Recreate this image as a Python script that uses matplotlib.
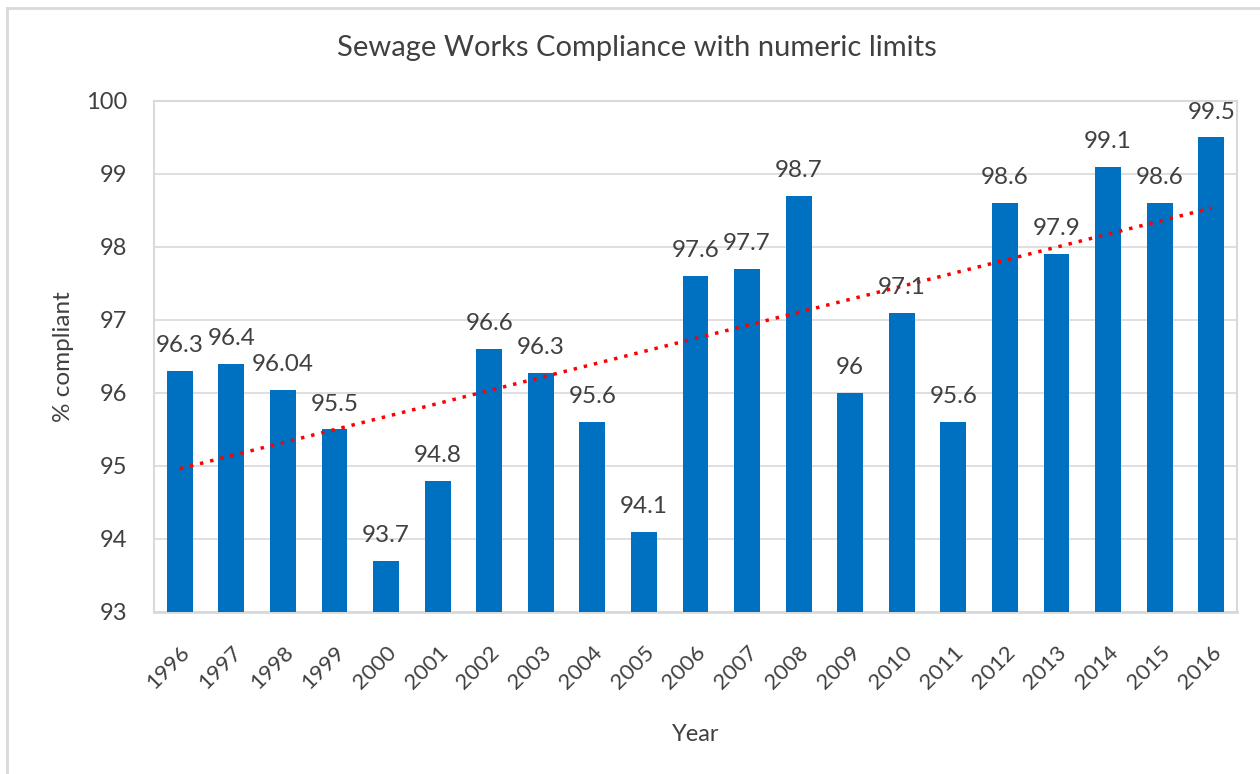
import matplotlib
matplotlib.use('Agg')
import matplotlib.pyplot as plt
from matplotlib.lines import Line2D
import numpy as np

years = ['1996', '1997', '1998', '1999', '2000', '2001', '2002', '2003', '2004', '2005', '2006',
         '2007', '2008', '2009', '2010', '2011', '2012', '2013', '2014', '2015', '2016']
compliance = [96.3, 96.4, 96.04, 95.5, 93.7, 94.8, 96.6, 96.27, 95.6, 94.1, 97.6,
              97.7, 98.7, 96.0, 97.1, 95.6, 98.6, 97.9, 99.1, 98.6, 99.5]
labels = ['96.3', '96.4', '96.04', '95.5', '93.7', '94.8', '96.6', '96.3', '95.6', '94.1', '97.6',
          '97.7', '98.7', '96', '97.1', '95.6', '98.6', '97.9', '99.1', '98.6', '99.5']

plt.rcParams['font.family'] = ['Lato', 'DejaVu Sans']
text_col = '#404040'
grid_col = '#d9d9d9'

fig = plt.figure(figsize=(12.6, 7.74), dpi=100)
# chart-area frame: only top and left edges show in the original
fig.add_artist(Line2D([7 / 1260, 1.0], [1 - 8 / 774] * 2, transform=fig.transFigure,
                      color=grid_col, lw=2))
fig.add_artist(Line2D([7 / 1260] * 2, [0.0, 1 - 8 / 774], transform=fig.transFigure,
                      color=grid_col, lw=2))

ax = fig.add_axes([154 / 1260, 1 - 612 / 774, (1237 - 154) / 1260, (612 - 101) / 774])

x = np.arange(len(years))
ax.bar(x, [v - 93 for v in compliance], bottom=93, width=0.5, color='#0070c0', zorder=3)
for xi, v, lab in zip(x, compliance, labels):
    ax.text(xi, v + 0.26, lab, ha='center', va='baseline', fontsize=17.5, color=text_col, zorder=5)

# linear trend line
k, b = np.polyfit(x, compliance, 1)
ax.plot(x, k * x + b, color='#ff0000', linestyle=(0, (1, 2)), lw=2.5, zorder=4)

ax.set_xlim(-0.5, len(years) - 0.5)
ax.set_ylim(93, 100)
ax.set_yticks(range(93, 101))
ax.set_xticks(x)
ax.set_xticklabels(years, rotation=45, ha='right', rotation_mode='anchor')
ax.tick_params(axis='y', length=0, labelsize=17, labelcolor=text_col, pad=19)
ax.tick_params(axis='x', length=0, labelsize=16, labelcolor=text_col, pad=22)
ax.grid(axis='y', color=grid_col, lw=1.2, zorder=0)
for s in ax.spines.values():
    s.set_color(grid_col)
    s.set_linewidth(1.5)
ax.spines['bottom'].set_linewidth(2)

ax.set_ylabel('% compliant', fontsize=17.5, color=text_col, labelpad=9)
ax.set_xlabel('Year', fontsize=17, color=text_col, labelpad=22)
fig.text(637 / 1260, 1 - 48 / 774, 'Sewage Works Compliance with numeric limits',
         ha='center', va='center', fontsize=21, color=text_col)

fig.savefig('out.png', dpi=100)
